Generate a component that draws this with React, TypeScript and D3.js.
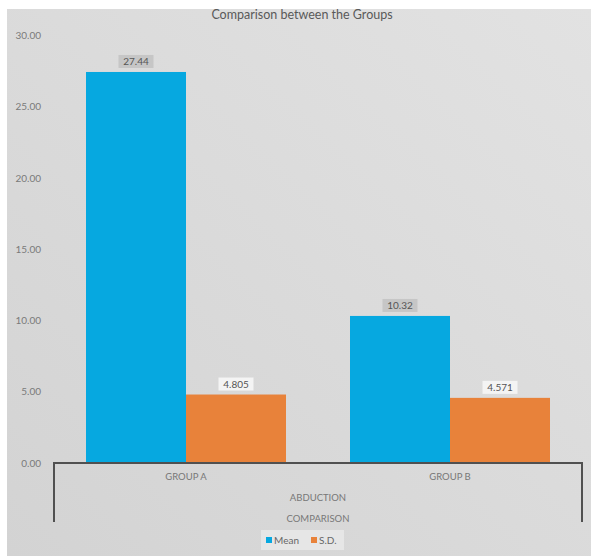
import React from "react";
import * as d3 from "d3";

const groups = ["GROUP A", "GROUP B"];
const series = ["Mean", "S.D."];
const meanValues = [27.44, 10.32];
const sdValues = [4.805, 4.571];
const meanLabels = ["27.44", "10.32"];
const sdLabels = ["4.805", "4.571"];
const yTicks = [0, 5, 10, 15, 20, 25, 30];
const title = "Comparison between the Groups";
const level2 = "ABDUCTION";
const level3 = "COMPARISON";

const W = 591;
const H = 557;
const FONT = "Lato, 'Open Sans', sans-serif";
const colors: Record<string, string> = { Mean: "#06a8e0", "S.D.": "#e8823a" };

export default function App() {
  const y = d3.scaleLinear().domain([0, 30]).range([463, 35.5]);
  const x0 = d3
    .scaleBand<string>()
    .domain(groups)
    .range([54, 582])
    .paddingInner(64 / 264)
    .paddingOuter(32 / 264);
  const x1 = d3.scaleBand<string>().domain(series).range([0, x0.bandwidth()]).padding(0);
  const values: Record<string, number[]> = { Mean: meanValues, "S.D.": sdValues };
  const labels: Record<string, string[]> = { Mean: meanLabels, "S.D.": sdLabels };
  const axisY = y(0);
  const midX = (54 + 582) / 2;

  return (
    <svg
      width={W}
      height={H}
      style={{ position: "absolute", left: 0, top: 0, background: "#fff" }}
      fontFamily={FONT}
    >
      <defs>
        <linearGradient id="bg" x1="0" y1="1" x2="1" y2="0">
          <stop offset="0" stopColor="#d3d3d3" />
          <stop offset="1" stopColor="#e2e2e2" />
        </linearGradient>
      </defs>
      <rect x={7} y={9} width={W - 7} height={547} fill="url(#bg)" />
      <text x={302} y={19} textAnchor="middle" fontSize={12.5} fill="#595959">
        {title}
      </text>
      {yTicks.map((t) => (
        <text key={t} x={41} y={y(t) + 3.5} textAnchor="end" fontSize={10} fill="#7a7a7a">
          {t.toFixed(2)}
        </text>
      ))}
      {groups.map((g, gi) =>
        series.map((s) => {
          const v = values[s][gi];
          const bx = (x0(g) as number) + (x1(s) as number);
          const bw = x1.bandwidth();
          const top = y(v);
          const lbl = labels[s][gi];
          const cx = bx + bw / 2;
          const isMean = s === "Mean";
          return (
            <g key={g + s}>
              <rect x={bx} y={top} width={bw} height={axisY - top} fill={colors[s]} />
              <rect
                x={cx - 17.5}
                y={top - 17}
                width={35}
                height={13}
                fill={isMean ? "#c6c6c6" : "#f4f4f4"}
              />
              <text x={cx} y={top - 7} textAnchor="middle" fontSize={10} fill="#555">
                {lbl}
              </text>
            </g>
          );
        })
      )}
      <path
        d={`M54,522 V${axisY} H582 V522`}
        fill="none"
        stroke="#505050"
        strokeWidth={2}
      />
      {groups.map((g) => (
        <text
          key={g}
          x={(x0(g) as number) + x0.bandwidth() / 2}
          y={480}
          textAnchor="middle"
          fontSize={9.5}
          fill="#777"
        >
          {g}
        </text>
      ))}
      <text x={midX} y={500.5} textAnchor="middle" fontSize={9.5} fill="#777">
        {level2}
      </text>
      <text x={midX} y={521.5} textAnchor="middle" fontSize={9.5} fill="#777">
        {level3}
      </text>
      <rect x={261} y={530} width={83} height={20} fill="#e6e6e6" />
      <rect x={266} y={537} width={6} height={6} fill={colors.Mean} />
      <text x={274} y={543.5} fontSize={10} fill="#666">
        Mean
      </text>
      <rect x={311} y={537} width={6} height={6} fill={colors["S.D."]} />
      <text x={319} y={543.5} fontSize={10} fill="#666">
        S.D.
      </text>
    </svg>
  );
}
